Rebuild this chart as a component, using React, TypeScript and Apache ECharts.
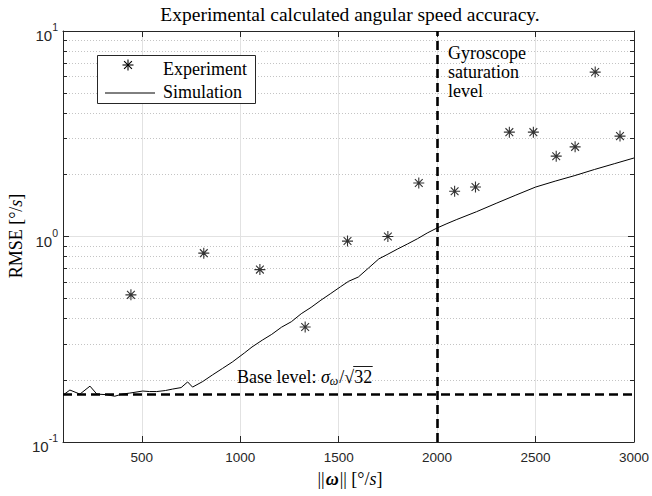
import React, { useEffect, useRef } from 'react';
import * as echarts from 'echarts';

const xTicks = [500, 1000, 1500, 2000, 2500, 3000];
const yMajor = [0.1, 1, 10];
const yMinor = [0.2, 0.3, 0.4, 0.5, 0.6, 0.7, 0.8, 0.9, 2, 3, 4, 5, 6, 7, 8, 9];

const expX = [445, 815, 1100, 1330, 1545, 1750, 1907, 2089, 2195, 2367, 2489, 2605, 2701, 2803, 2929];
const expY = [0.52, 0.83, 0.69, 0.363, 0.95, 1.0, 1.82, 1.66, 1.74, 3.22, 3.22, 2.46, 2.73, 6.31, 3.08];

const simX = [100, 135, 186, 237, 272, 320, 363, 400, 439, 505, 540, 576, 620, 657, 700, 733, 758, 810, 859, 910, 960, 1021, 1060, 1112, 1160, 1210, 1260, 1310, 1360, 1410, 1460, 1510, 1550, 1600, 1650, 1704, 1750, 1800, 1850, 1900, 1950, 2000, 2050, 2100, 2200, 2300, 2400, 2500, 2600, 2700, 2800, 2900, 3000];
const simY = [0.169, 0.179, 0.171, 0.187, 0.171, 0.170, 0.167, 0.171, 0.173, 0.177, 0.176, 0.176, 0.178, 0.181, 0.184, 0.196, 0.185, 0.197, 0.212, 0.228, 0.245, 0.271, 0.29, 0.313, 0.334, 0.362, 0.385, 0.421, 0.452, 0.49, 0.528, 0.57, 0.605, 0.635, 0.70, 0.778, 0.82, 0.87, 0.92, 0.975, 1.04, 1.10, 1.155, 1.21, 1.32, 1.45, 1.59, 1.74, 1.86, 1.98, 2.12, 2.26, 2.41];

const saturationLevel = 2000;
const baseLevel = 0.175;

const SERIF = '"Liberation Serif", "Times New Roman", Times, serif';
const SANS = '"Liberation Sans", Arial, Helvetica, sans-serif';
const AX = '#262626';

const STAR = 'path://M0,-10L0,10M-10,0L10,0M-7.07,-7.07L7.07,7.07M-7.07,7.07L7.07,-7.07';

function measure(text: string, font: string): number {
  const c = document.createElement('canvas').getContext('2d');
  if (!c) return text.length * 8;
  c.font = font;
  return c.measureText(text).width;
}

export default function App() {
  const ref = useRef<HTMLDivElement>(null);

  useEffect(() => {
    if (!ref.current) return;
    const chart = echarts.init(ref.current, undefined, { renderer: 'svg' });

    const fN = `18px ${SERIF}`;
    const fI = `italic 18px ${SERIF}`;
    const fS = `italic 12px ${SERIF}`;
    const fBI = `italic bold 18px ${SERIF}`;

    const txt = (x: number, y: number, text: string, font: string, extra: any = {}) => ({
      type: 'text',
      x,
      y,
      z: 100,
      silent: true,
      style: { text, font, fill: '#000', align: 'left', verticalAlign: 'middle', ...extra },
    });

    // Base level label pieces
    const bx0 = 237;
    const by = 377;
    const w1 = measure('Base level: ', fN);
    const w2 = measure('σ', fI);
    const w3 = measure('ω', fS);
    const w4 = measure('/', fN);
    const w5 = measure('√', fN);
    const w6 = measure('32', fN);
    const x2 = bx0 + w1;
    const x3 = x2 + w2;
    const x4 = x3 + w3 + 1;
    const x5 = x4 + w4;
    const x6 = x5 + w5;

    // x axis name pieces: ||ω|| [°/s]
    const pA = '||';
    const pB = 'ω';
    const pC = '|| [°/';
    const pD = 's';
    const pE = ']';
    const wA = measure(pA, fN) + 1;
    const wB = measure(pB, fBI) + 1;
    const wC = measure(pC, fN);
    const wD = measure(pD, fI);
    const wE = measure(pE, fN);
    const total = wA + wB + wC + wD + wE;
    const xa = 350 - total / 2;
    const xb = xa + wA;
    const xc = xb + wB;
    const xd = xc + wC;
    const xe = xd + wD;
    const xy = 479;

    const option: any = {
      animation: false,
      backgroundColor: '#fff',
      grid: { left: 63, right: 16, top: 31, bottom: 54, containLabel: false },
      xAxis: [
        {
          type: 'value',
          min: 100,
          max: 3000,
          position: 'bottom',
          axisLine: { show: true, onZero: false, lineStyle: { color: AX, width: 1 } },
          axisTick: { show: true, inside: true, length: 6, customValues: xTicks, lineStyle: { color: AX } },
          axisLabel: {
            show: true,
            customValues: xTicks,
            formatter: (v: number) => String(v),
            fontSize: 13.5,
            fontFamily: SANS,
            color: AX,
            margin: 8,
          },
          splitLine: { show: true, lineStyle: { color: '#e2e2e2', width: 1 } },
        },
        {
          type: 'value',
          min: 100,
          max: 3000,
          position: 'top',
          axisLine: { show: true, onZero: false, lineStyle: { color: AX, width: 1 } },
          axisTick: { show: true, inside: true, length: 6, customValues: xTicks, lineStyle: { color: AX } },
          axisLabel: { show: false },
          splitLine: { show: false },
        },
      ],
      yAxis: [
        {
          type: 'log',
          logBase: 10,
          min: 0.1,
          max: 10,
          position: 'left',
          axisLine: { show: true, onZero: false, lineStyle: { color: AX, width: 1 } },
          axisTick: { show: true, inside: true, length: 6, customValues: yMajor, lineStyle: { color: AX } },
          axisLabel: {
            show: true,
            customValues: yMajor,
            margin: 5,
            formatter: (v: number) => `{b|10}{s|${Math.round(Math.log10(v))}}`,
            rich: {
              b: { fontSize: 15, fontFamily: SANS, color: AX, padding: [9, 0, 0, 0] },
              s: { fontSize: 10.5, fontFamily: SANS, color: AX, padding: [0, 0, 8, 0] },
            },
          },
          splitLine: { show: true, lineStyle: { color: '#e2e2e2', width: 1 } },
        },
        {
          type: 'log',
          logBase: 10,
          min: 0.1,
          max: 10,
          position: 'left',
          axisLine: { show: false },
          axisTick: { show: true, inside: true, length: 4, customValues: yMinor, lineStyle: { color: AX } },
          axisLabel: { show: false },
          splitLine: { show: true, lineStyle: { color: '#c4c4c4', width: 1, type: [1, 2] } },
        },
        {
          type: 'log',
          logBase: 10,
          min: 0.1,
          max: 10,
          position: 'right',
          axisLine: { show: true, onZero: false, lineStyle: { color: AX, width: 1 } },
          axisTick: { show: true, inside: true, length: 6, customValues: yMajor, lineStyle: { color: AX } },
          axisLabel: { show: false },
          splitLine: { show: false },
        },
        {
          type: 'log',
          logBase: 10,
          min: 0.1,
          max: 10,
          position: 'right',
          axisLine: { show: false },
          axisTick: { show: true, inside: true, length: 4, customValues: yMinor, lineStyle: { color: AX } },
          axisLabel: { show: false },
          splitLine: { show: false },
        },
      ],
      series: [
        {
          name: 'Simulation',
          type: 'line',
          xAxisIndex: 0,
          yAxisIndex: 0,
          data: simX.map((x, i) => [x, simY[i]]),
          showSymbol: false,
          symbol: 'none',
          lineStyle: { color: '#000', width: 1 },
          z: 3,
          markLine: {
            silent: true,
            symbol: ['none', 'none'],
            label: { show: false },
            lineStyle: { color: '#000', width: 2.6, type: [9, 5] },
            data: [{ xAxis: saturationLevel }, { yAxis: baseLevel }],
          },
        },
        {
          name: 'Experiment',
          type: 'scatter',
          xAxisIndex: 0,
          yAxisIndex: 0,
          data: expX.map((x, i) => [x, expY[i]]),
          symbol: STAR,
          symbolSize: 11,
          itemStyle: { color: 'transparent', borderColor: '#000', borderWidth: 1.1 },
          z: 4,
        },
      ],
      graphic: [
        txt(350, 14, 'Experimental calculated angular speed accuracy.', `19.5px ${SERIF}`, { align: 'center' }),
        {
          type: 'text',
          x: 16,
          y: 236,
          rotation: Math.PI / 2,
          silent: true,
          z: 100,
          style: {
            text: 'RMSE [°/{i|s}]',
            font: fN,
            fill: '#000',
            align: 'center',
            verticalAlign: 'middle',
            rich: {
              i: { fontStyle: 'italic', fontSize: 18, fontFamily: SERIF, fill: '#000', color: '#000' },
            },
          },
        },
        txt(xa, xy, pA, fN),
        txt(xb, xy, pB, fBI),
        txt(xc, xy, pC, fN),
        txt(xd, xy, pD, fI),
        txt(xe, xy, pE, fN),
        {
          type: 'text',
          x: 448,
          y: 43,
          z: 100,
          silent: true,
          style: {
            text: 'Gyroscope\nsaturation\nlevel',
            font: fN,
            lineHeight: 19,
            fill: '#000',
            align: 'left',
            verticalAlign: 'top',
          },
        },
        txt(bx0, by, 'Base level: ', fN),
        txt(x2, by, 'σ', fI),
        txt(x3, by + 4, 'ω', fS),
        txt(x4, by, '/', fN),
        txt(x5, by, '√', fN),
        txt(x6, by, '32', fN),
        {
          type: 'line',
          z: 100,
          silent: true,
          shape: { x1: x6 - 1, y1: 366.5, x2: x6 + w6 + 0.5, y2: 366.5 },
          style: { stroke: '#000', lineWidth: 0.9 },
        },
        // legend
        {
          type: 'rect',
          z: 99,
          silent: true,
          shape: { x: 97.5, y: 55.5, width: 158, height: 48 },
          style: { fill: '#fff', stroke: AX, lineWidth: 1 },
        },
        { type: 'line', z: 101, silent: true, shape: { x1: 128, y1: 59.5, x2: 128, y2: 70.5 }, style: { stroke: '#000', lineWidth: 1.1 } },
        { type: 'line', z: 101, silent: true, shape: { x1: 122.5, y1: 65, x2: 133.5, y2: 65 }, style: { stroke: '#000', lineWidth: 1.1 } },
        { type: 'line', z: 101, silent: true, shape: { x1: 124.1, y1: 61.1, x2: 131.9, y2: 68.9 }, style: { stroke: '#000', lineWidth: 1.1 } },
        { type: 'line', z: 101, silent: true, shape: { x1: 124.1, y1: 68.9, x2: 131.9, y2: 61.1 }, style: { stroke: '#000', lineWidth: 1.1 } },
        {
          type: 'line',
          z: 101,
          silent: true,
          shape: { x1: 105, y1: 93, x2: 155, y2: 93 },
          style: { stroke: '#000', lineWidth: 1 },
        },
        txt(163, 69, 'Experiment', fN),
        txt(163, 92, 'Simulation', fN),
      ],
    };

    chart.setOption(option);
    return () => chart.dispose();
  }, []);

  return (
    <div
      ref={ref}
      style={{ position: 'absolute', left: 0, top: 0, width: 652, height: 496, background: '#fff' }}
    />
  );
}
